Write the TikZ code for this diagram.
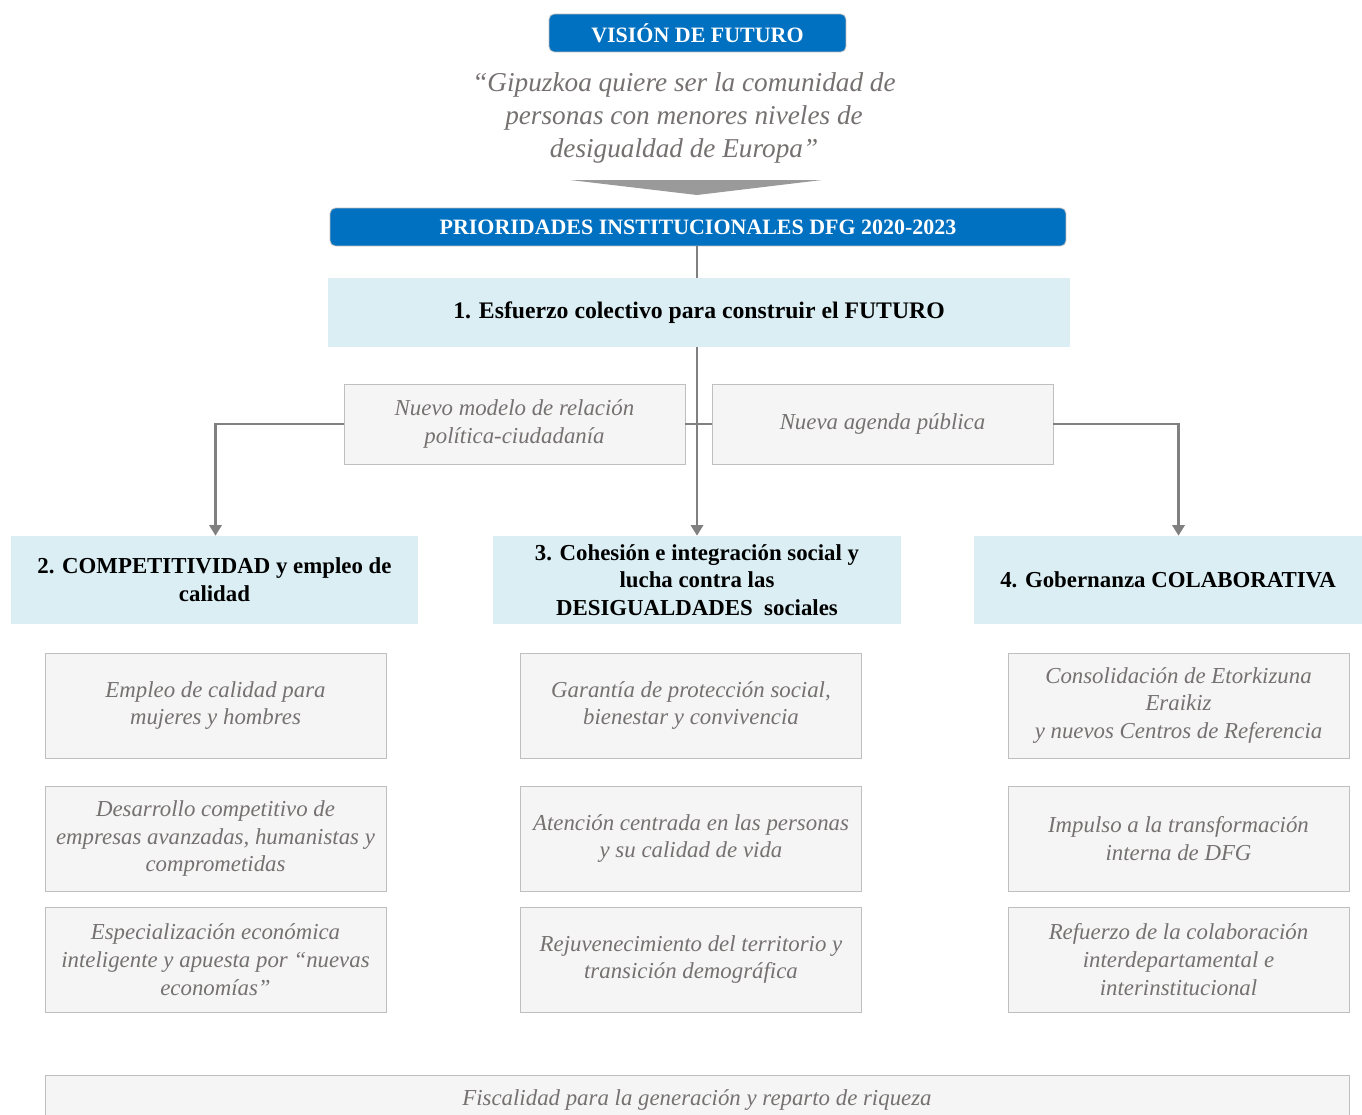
\documentclass[tikz,border=0pt]{standalone}
\usepackage{fontspec}
\setmainfont{Liberation Serif}
\usepackage{tikz}
\usetikzlibrary{arrows.meta, positioning}
\definecolor{dfgazul}{RGB}{0,112,192}
\definecolor{celeste}{RGB}{218,238,243}
\definecolor{grisfondo}{RGB}{245,245,245}
\definecolor{grisborde}{RGB}{191,191,191}
\definecolor{gristexto}{RGB}{118,113,113}
\definecolor{gristrazo}{RGB}{128,128,128}

\begin{document}
\begin{tikzpicture}[x=0.02cm, y=-0.02cm,
  azul/.style = {draw=grisborde, fill=dfgazul, rounded corners=3pt, text=white, font=\fontsize{12.5}{15}\selectfont\bfseries, inner sep=0pt},
  prio/.style = {fill=celeste, align=center, font=\fontsize{13}{15.8}\selectfont\bfseries, inner sep=0pt},
  linea/.style = {draw=grisborde, fill=grisfondo, align=center, text=gristexto, font=\fontsize{13}{15.8}\selectfont\itshape, inner sep=0pt, minimum width=6.82cm},
  conector/.style = {draw=gristrazo, line width=1.3pt},
  flecha/.style = {conector, -{Triangle[width=7pt, length=6pt]}}]
\useasboundingbox[fill=white] (0,0) rectangle (1362,1115);

% vision
\node[azul, minimum width=5.94cm, minimum height=0.76cm] (vision) at (697.5,33) {VISIÓN DE FUTURO};
\node[align=center, text=gristexto, font=\fontsize{15.5}{18.7}\selectfont\itshape] (frase) at (684,118)
  {“Gipuzkoa quiere ser la comunidad de\\ personas con menores niveles de\\ desigualdad de Europa”};
\fill[gristrazo!80] (570,180) -- (822,180) -- (697,195) -- cycle;

% prioridades
\node[azul, minimum width=14.72cm, minimum height=0.76cm] (prior) at (698,227) {PRIORIDADES INSTITUCIONALES DFG 2020-2023};
\node[prio, minimum width=14.84cm, minimum height=1.38cm, font=\fontsize{13.5}{16}\selectfont\bfseries] (esfuerzo) at (699,312.5) {1. Esfuerzo colectivo para construir el FUTURO};

\node[linea, minimum height=1.6cm] (relacion) at (514.5,424) {Nuevo modelo de relación\\ política-ciudadanía};
\node[linea, minimum height=1.6cm] (agenda) at (882.5,424) {Nueva agenda pública};

\node[prio, minimum width=8.14cm, minimum height=1.76cm] (compet) at (214.5,580) {2. COMPETITIVIDAD y empleo de\\ calidad};
\node[prio, minimum width=8.16cm, minimum height=1.76cm] (cohesion) at (697,580) {3. Cohesión e integración social y\\ lucha contra las\\ DESIGUALDADES\ \ sociales};
\node[prio, minimum width=7.76cm, minimum height=1.76cm] (gobern) at (1168,580) {4. Gobernanza COLABORATIVA};

% columna 2
\node[linea, minimum height=2.1cm] (empleo) at (215.5,705.5) {Empleo de calidad para\\ mujeres y hombres};
\node[linea, minimum height=2.1cm] (empresas) at (215.5,838.5) {Desarrollo competitivo de\\ empresas avanzadas, humanistas y\\ comprometidas};
\node[linea, minimum height=2.1cm] (especial) at (215.5,959.5) {Especialización económica\\ inteligente y apuesta por “nuevas\\ economías”};

% columna 3
\node[linea, minimum height=2.1cm] (garantia) at (691,705.5) {Garantía de protección social,\\ bienestar y convivencia};
\node[linea, minimum height=2.1cm] (atencion) at (691,838.5) {Atención centrada en las personas\\ y su calidad de vida};
\node[linea, minimum height=2.1cm] (rejuven) at (691,959.5) {Rejuvenecimiento del territorio y\\ transición demográfica};

% columna 4
\node[linea, minimum height=2.1cm] (etorkizuna) at (1178.5,705.5) {Consolidación de Etorkizuna\\ Eraikiz\\ y nuevos Centros de Referencia};
\node[linea, minimum height=2.1cm] (impulso) at (1178.5,838.5) {Impulso a la transformación\\ interna de DFG};
\node[linea, minimum height=2.1cm] (refuerzo) at (1178.5,959.5) {Refuerzo de la colaboración\\ interdepartamental e\\ interinstitucional};

\node[linea, minimum width=26.08cm, minimum height=1.0cm] (fiscal) at (697,1100) {Fiscalidad para la generación y reparto de riqueza};

% conectores
\draw[conector] (prior.south -| cohesion) -- (esfuerzo.north -| cohesion);
\draw[flecha] (esfuerzo.south -| cohesion) -- (cohesion.north);
\draw[flecha] (relacion.west) -| (empleo.north |- compet.north);
\draw[flecha] (agenda.east) -| (etorkizuna.north |- gobern.north);
\draw[conector] (relacion.east) -- (agenda.west);
\end{tikzpicture}
\end{document}
